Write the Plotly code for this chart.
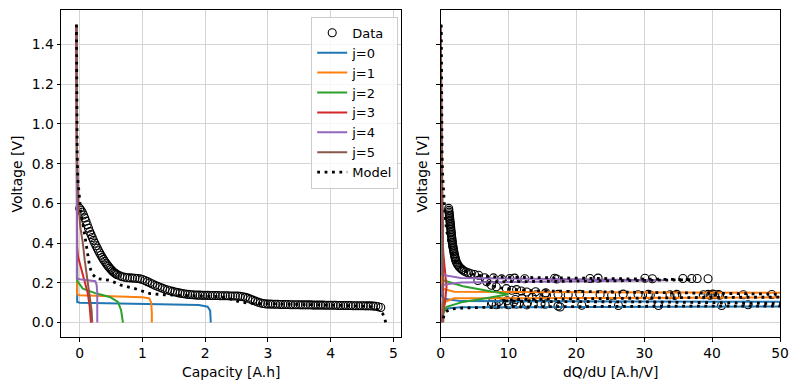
import plotly.graph_objects as go

# ---------------- measured data: capacity vs voltage (left panel) ----------------
cap_data = [0.00, 0.02, 0.04, 0.06, 0.08, 0.10, 0.12, 0.14, 0.16, 0.18, 0.20, 0.22, 0.24, 0.26, 0.28,
            0.30, 0.32, 0.34, 0.36, 0.38, 0.40, 0.42, 0.44, 0.46, 0.48, 0.50, 0.52, 0.54, 0.56, 0.58,
            0.60, 0.64, 0.68, 0.72, 0.76, 0.80, 0.84, 0.88, 0.92, 0.96, 1.00, 1.04, 1.08, 1.12, 1.16,
            1.20, 1.24, 1.28, 1.32, 1.36, 1.40, 1.44, 1.48, 1.52, 1.56, 1.60, 1.64, 1.68, 1.72, 1.76,
            1.80, 1.84, 1.88, 1.92, 1.96, 2.00, 2.04, 2.08, 2.12, 2.16, 2.20, 2.24, 2.28, 2.32, 2.36,
            2.40, 2.44, 2.48, 2.52, 2.56, 2.60, 2.64, 2.68, 2.72, 2.76, 2.80, 2.84, 2.88, 2.92, 2.96,
            3.00, 3.04, 3.08, 3.12, 3.16, 3.20, 3.24, 3.28, 3.32, 3.36, 3.40, 3.44, 3.48, 3.52, 3.56,
            3.60, 3.64, 3.68, 3.72, 3.76, 3.80, 3.84, 3.88, 3.92, 3.96, 4.00, 4.04, 4.08, 4.12, 4.16,
            4.20, 4.24, 4.28, 4.32, 4.36, 4.40, 4.44, 4.48, 4.52, 4.56, 4.60, 4.64, 4.68, 4.72, 4.76,
            4.80]
volt_data = [0.575, 0.566, 0.556, 0.542, 0.527, 0.510, 0.492, 0.475, 0.458, 0.443, 0.428, 0.414, 0.400, 0.387, 0.374,
             0.362, 0.350, 0.339, 0.328, 0.318, 0.308, 0.299, 0.290, 0.282, 0.274, 0.267, 0.260, 0.254, 0.249, 0.245,
             0.241, 0.235, 0.231, 0.228, 0.226, 0.225, 0.224, 0.223, 0.222, 0.220, 0.217, 0.212, 0.206, 0.200, 0.194,
             0.188, 0.183, 0.178, 0.173, 0.168, 0.164, 0.160, 0.157, 0.154, 0.151, 0.148, 0.146, 0.144, 0.142, 0.141,
             0.140, 0.139, 0.138, 0.138, 0.137, 0.137, 0.137, 0.136, 0.136, 0.136, 0.136, 0.135, 0.135, 0.135, 0.135,
             0.134, 0.134, 0.134, 0.133, 0.132, 0.130, 0.127, 0.123, 0.118, 0.113, 0.108, 0.103, 0.099, 0.096, 0.094,
             0.093, 0.093, 0.092, 0.092, 0.092, 0.091, 0.091, 0.091, 0.091, 0.090, 0.090, 0.090, 0.090, 0.089, 0.089,
             0.089, 0.089, 0.089, 0.088, 0.088, 0.088, 0.088, 0.088, 0.087, 0.087, 0.087, 0.087, 0.087, 0.086, 0.086,
             0.086, 0.086, 0.086, 0.086, 0.085, 0.085, 0.085, 0.085, 0.085, 0.084, 0.084, 0.084, 0.083, 0.082, 0.080,
             0.076]

# ---------------- measured data: dQ/dU vs voltage (right panel) ----------------
dqdu_data = [1.20, 1.22, 1.25, 1.28, 1.30, 1.33, 1.35, 1.38, 1.40, 1.43, 1.45, 1.48, 1.50, 1.52, 1.55,
             1.57, 1.60, 1.62, 1.65, 1.68, 1.70, 1.73, 1.76, 1.80, 1.84, 1.88, 1.92, 1.96, 2.00, 2.05,
             2.10, 2.16, 2.22, 2.30, 2.40, 2.52, 2.66, 2.82, 3.00, 3.20, 3.45, 3.75, 4.10, 4.50, 5.00,
             5.60,
             6.5, 7.8, 9.0, 10.2, 10.9, 12.4, 16.8, 17.1, 22.0, 23.2, 30.1, 31.2, 35.7, 37.0, 37.8, 39.4,
             5.5, 6.8, 7.5, 8.2, 9.7, 10.5, 11.2, 11.9, 12.7, 14.0, 15.5,
             14.1, 15.4, 15.6, 17.3, 18.8, 20.5, 23.5, 25.2, 26.9, 29.1, 30.6, 30.9, 33.8, 34.5, 34.8,
             38.7, 39.4, 39.7, 40.1, 40.4, 40.9, 41.1, 44.6, 48.8,
             13.5, 12.0, 11.0, 9.8, 8.6, 7.6, 10.8, 12.8,
             7.5, 8.2, 9.0, 10.0, 11.2, 12.7, 14.8, 15.4, 17.3, 17.6, 20.8, 26.2, 32.1, 41.4, 45.3]
dqdu_volt = [0.575, 0.565, 0.556, 0.548, 0.540, 0.532, 0.524, 0.516, 0.508, 0.500, 0.492, 0.484, 0.476, 0.468, 0.460,
             0.452, 0.444, 0.436, 0.428, 0.420, 0.412, 0.404, 0.396, 0.388, 0.380, 0.372, 0.364, 0.356, 0.348, 0.340,
             0.332, 0.324, 0.316, 0.308, 0.300, 0.292, 0.285, 0.278, 0.272, 0.266, 0.260, 0.255, 0.250, 0.246, 0.242,
             0.238,
             0.226, 0.225, 0.220, 0.222, 0.224, 0.221, 0.223, 0.219, 0.222, 0.224, 0.223, 0.221, 0.222, 0.222, 0.222, 0.221,
             0.212, 0.205, 0.188, 0.180, 0.171, 0.163, 0.166, 0.159, 0.154, 0.155, 0.150,
             0.140, 0.145, 0.138, 0.142, 0.140, 0.142, 0.140, 0.138, 0.143, 0.140, 0.142, 0.138, 0.140, 0.137, 0.142,
             0.140, 0.142, 0.138, 0.143, 0.140, 0.141, 0.138, 0.140, 0.141,
             0.128, 0.122, 0.116, 0.110, 0.106, 0.102, 0.104, 0.100,
             0.092, 0.090, 0.094, 0.090, 0.093, 0.089, 0.095, 0.092, 0.083, 0.078, 0.087, 0.086, 0.086, 0.086, 0.090]

# ---------------- model components: capacity vs voltage ----------------
j0_cap = [-0.05, -0.05, -0.04, 0.00, 1.00, 1.90, 2.04, 2.08, 2.09]
j0_volt = [1.50, 0.12, 0.104, 0.100, 0.095, 0.088, 0.080, 0.060, 0.0]
j1_cap = [-0.05, -0.05, -0.04, 0.00, 0.50, 1.00, 1.11, 1.14, 1.15, 1.15]
j1_volt = [1.50, 0.16, 0.143, 0.138, 0.133, 0.128, 0.122, 0.100, 0.050, 0.0]
j2_cap = [-0.05, -0.05, -0.04, 0.05, 0.27, 0.48, 0.61, 0.66, 0.69]
j2_volt = [1.50, 0.23, 0.210, 0.171, 0.146, 0.129, 0.104, 0.062, 0.0]
j3_cap = [-0.05, -0.05, -0.045, -0.04, -0.025, 0.00, 0.03, 0.08, 0.13, 0.16, 0.18]
j3_volt = [1.50, 0.60, 0.450, 0.380, 0.330, 0.300, 0.264, 0.213, 0.146, 0.079, 0.0]
j4_cap = [-0.05, -0.05, -0.045, 0.00, 0.20, 0.25, 0.27, 0.28, 0.28]
j4_volt = [1.50, 0.23, 0.222, 0.218, 0.213, 0.208, 0.190, 0.150, 0.0]
j5_cap = [-0.055, -0.052, -0.045, -0.03, -0.02, 0.01, 0.05, 0.08, 0.12, 0.16, 0.19, 0.20]
j5_volt = [1.50, 1.20, 0.90, 0.72, 0.60, 0.48, 0.40, 0.314, 0.22, 0.146, 0.06, 0.0]
model_cap = [-0.052, -0.05, -0.046, -0.04, -0.03, -0.01, 0.00, 0.02, 0.05, 0.08, 0.10, 0.13, 0.16, 0.20, 0.27,
             0.48, 0.58, 0.66, 0.88, 1.12, 1.35, 1.60, 1.90, 2.20, 2.35, 2.45, 2.55, 2.70, 3.00, 3.50,
             4.00, 4.40, 4.62, 4.72, 4.78, 4.83, 4.86, 4.879]
model_volt = [1.50, 1.25, 1.00, 0.85, 0.72, 0.64, 0.60, 0.55, 0.50, 0.44, 0.38, 0.32, 0.28, 0.245, 0.222,
              0.213, 0.200, 0.188, 0.171, 0.146, 0.140, 0.137, 0.135, 0.131, 0.125, 0.115, 0.104, 0.097, 0.094, 0.091,
              0.088, 0.086, 0.082, 0.072, 0.060, 0.045, 0.025, 0.0]

# ---------------- model components: dQ/dU vs voltage ----------------
j0_dqdu = [0.0, 0.0, 0.1, 0.5, 3.0, 60.0, 60.0, 3.0, 0.5, 0.1, 0.0]
j0_dvolt = [1.50, 0.20, 0.140, 0.120, 0.108, 0.104, 0.082, 0.077, 0.070, 0.050, 0.0]
j1_dqdu = [0.0, 0.0, 0.3, 2.0, 60.0, 60.0, 2.0, 0.3, 0.0, 0.0]
j1_dvolt = [1.50, 0.25, 0.170, 0.155, 0.149, 0.128, 0.122, 0.100, 0.020, 0.0]
j2_dqdu = [0.0, 0.05, 0.4, 3.3, 7.3, 10.0, 7.3, 3.3, 0.9, 0.4, 0.1]
j2_dvolt = [1.50, 0.35, 0.213, 0.183, 0.158, 0.143, 0.126, 0.104, 0.079, 0.045, 0.0]
j3_dqdu = [0.02, 0.05, 0.15, 0.40, 0.63, 0.88, 0.63, 0.15, 0.10]
j3_dvolt = [1.50, 0.80, 0.60, 0.35, 0.264, 0.180, 0.096, 0.010, 0.0]
j4_dqdu = [0.0, 0.0, 0.3, 3.0, 33.0, 3.0, 0.3, 0.0, 0.0]
j4_dvolt = [1.50, 0.30, 0.240, 0.224, 0.213, 0.202, 0.190, 0.140, 0.0]
j5_dqdu = [0.03, 0.08, 0.15, 0.25, 0.35, 0.40, 0.42, 0.40]
j5_dvolt = [1.50, 1.20, 0.90, 0.70, 0.50, 0.30, 0.15, 0.0]
model_dqdu = [0.10, 0.12, 0.14, 0.17, 0.22, 0.30, 0.42, 0.60, 0.88, 1.37, 2.1, 3.3, 5.0, 8.0, 15.0,
              28.0, 37.0, 28.0, 15.0, 8.0, 6.5, 7.5, 9.5, 14.0, 25.0, 45.0, 80.0, 80.0, 40.0, 20.0,
              11.0, 9.0, 14.0, 30.0, 80.0, 80.0, 30.0, 10.0, 3.5, 1.5, 0.8, 0.5, 0.35, 0.30]
model_dvolt = [1.50, 1.30, 1.10, 0.95, 0.85, 0.75, 0.65, 0.57, 0.466, 0.38, 0.314, 0.264, 0.240, 0.230, 0.226,
               0.222, 0.216, 0.211, 0.208, 0.205, 0.198, 0.185, 0.170, 0.160, 0.154, 0.150, 0.147, 0.130, 0.127, 0.122,
               0.116, 0.110, 0.106, 0.104, 0.101, 0.085, 0.082, 0.079, 0.074, 0.068, 0.055, 0.035, 0.015, 0.0]

names = ["j=0", "j=1", "j=2", "j=3", "j=4", "j=5"]
colors = ["#1f77b4", "#ff7f0e", "#2ca02c", "#d62728", "#9467bd", "#8c564b"]
left_curves = [(j0_cap, j0_volt), (j1_cap, j1_volt), (j2_cap, j2_volt),
               (j3_cap, j3_volt), (j4_cap, j4_volt), (j5_cap, j5_volt)]
right_curves = [(j0_dqdu, j0_dvolt), (j1_dqdu, j1_dvolt), (j2_dqdu, j2_dvolt),
                (j3_dqdu, j3_dvolt), (j4_dqdu, j4_dvolt), (j5_dqdu, j5_dvolt)]

FONT = "DejaVu Sans"
marker_style = dict(symbol="circle-open", size=8, color="black", line=dict(width=1.1, color="black"))
model_line = dict(color="black", width=2.8, dash="2.8px,4.6px")

fig = go.Figure()
fig.add_trace(go.Scatter(x=cap_data, y=volt_data, mode="markers", marker=marker_style,
                         name="Data", xaxis="x", yaxis="y"))
for (xs, ys), n, c in zip(left_curves, names, colors):
    fig.add_trace(go.Scatter(x=xs, y=ys, mode="lines", line=dict(color=c, width=2),
                             name=n, xaxis="x", yaxis="y"))
fig.add_trace(go.Scatter(x=model_cap, y=model_volt, mode="lines", line=model_line,
                         name="Model", xaxis="x", yaxis="y"))

fig.add_trace(go.Scatter(x=dqdu_data, y=dqdu_volt, mode="markers", marker=marker_style,
                         showlegend=False, xaxis="x2", yaxis="y2"))
for (xs, ys), n, c in zip(right_curves, names, colors):
    fig.add_trace(go.Scatter(x=xs, y=ys, mode="lines", line=dict(color=c, width=2),
                             showlegend=False, xaxis="x2", yaxis="y2"))
fig.add_trace(go.Scatter(x=model_dqdu, y=model_dvolt, mode="lines", line=model_line,
                         showlegend=False, xaxis="x2", yaxis="y2"))

axis_common = dict(showgrid=True, gridcolor="#d4d4d4", gridwidth=1, zeroline=False,
                   showline=True, mirror=True, linecolor="black", linewidth=1,
                   ticks="outside", ticklen=3.5, tickwidth=1, tickcolor="black")
yticks = [0.0, 0.2, 0.4, 0.6, 0.8, 1.0, 1.2, 1.4]
yticktext = ["0.0", "0.2", "0.4", "0.6", "0.8", "1.0", "1.2", "1.4"]

# the page body adds an 8px margin; the figure is sized so that the plot areas
# land where the reference has them
fig.update_layout(
    width=790, height=382,
    margin=dict(l=53, r=18, t=2, b=53),
    paper_bgcolor="white", plot_bgcolor="white",
    font=dict(family=FONT, size=13.9, color="black"),
    xaxis=dict(domain=[0, 0.4731], range=[-0.298, 5.125], tickvals=[0, 1, 2, 3, 4, 5],
               anchor="y", **axis_common),
    yaxis=dict(range=[-0.0727, 1.574], tickvals=yticks, ticktext=yticktext,
               anchor="x", **axis_common),
    xaxis2=dict(domain=[0.5279, 1], range=[0, 50], tickvals=[0, 10, 20, 30, 40, 50],
                anchor="y2", **axis_common),
    yaxis2=dict(range=[-0.0727, 1.574], tickvals=yticks, showticklabels=False,
                anchor="x2", **axis_common),
    legend=dict(x=0.469, y=0.979, xanchor="right", yanchor="top",
                bgcolor="rgba(255,255,255,0.8)", bordercolor="#cccccc", borderwidth=1,
                font=dict(family=FONT, size=13)),
    annotations=[
        dict(text="Capacity [A.h]", xref="paper", yref="paper", x=0.2366, y=-0.106,
             xanchor="center", yanchor="middle", showarrow=False),
        dict(text="dQ/dU [A.h/V]", xref="paper", yref="paper", x=0.764, y=-0.106,
             xanchor="center", yanchor="middle", showarrow=False),
        dict(text="Voltage [V]", xref="paper", yref="paper", x=-0.0612, y=0.5,
             xanchor="center", yanchor="middle", textangle=-90, showarrow=False),
        dict(text="Voltage [V]", xref="paper", yref="paper", x=0.502, y=0.5,
             xanchor="center", yanchor="middle", textangle=-90, showarrow=False),
    ],
)

fig.write_html("out.html")
